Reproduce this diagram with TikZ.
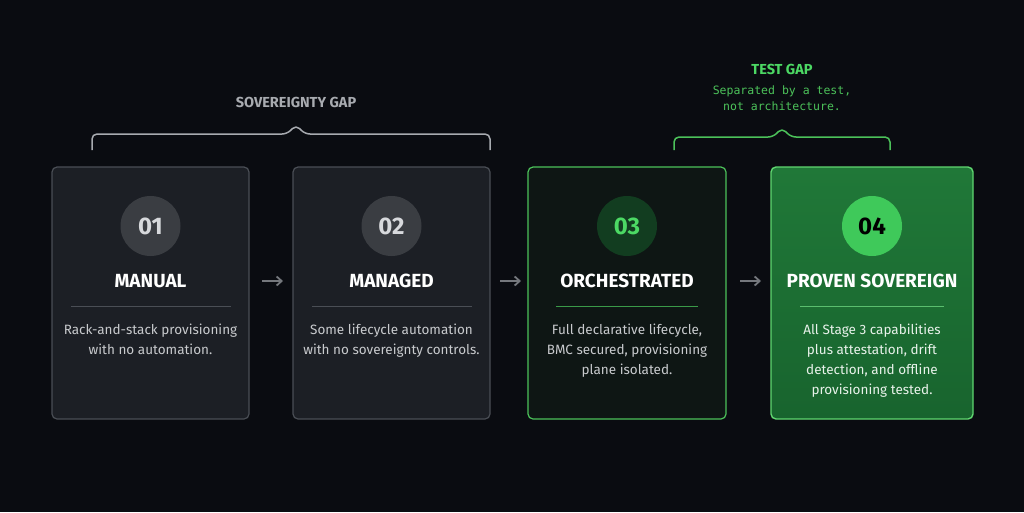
\documentclass[tikz,border=0pt]{standalone}
\usepackage{fontspec}
\setmainfont{Fira Sans}
\newfontfamily\monof{DejaVu Sans Mono}
\usetikzlibrary{arrows.meta}
\definecolor{bg}{HTML}{0A0C11}
\definecolor{cardfill}{HTML}{1C1F25}
\definecolor{cardline}{HTML}{4A4E55}
\definecolor{desccol}{HTML}{C8CACD}
\definecolor{arrcol}{HTML}{75787D}
\definecolor{grn}{HTML}{4CD964}
\definecolor{grnline}{HTML}{4CC25A}
\definecolor{brkgray}{HTML}{A8ABB0}
\definecolor{c3fill}{HTML}{0E1614}
\definecolor{c4top}{HTML}{207838}
\definecolor{c4bot}{HTML}{18642E}
\definecolor{c4line}{HTML}{5FD670}
\definecolor{numgray}{HTML}{3A3D42}
\definecolor{numtext}{HTML}{D7D9DC}
\definecolor{num3}{HTML}{123D20}
\definecolor{num4}{HTML}{3FC95A}
\definecolor{sep3}{HTML}{3A9A48}
\definecolor{sep4}{HTML}{5ABE6E}
\definecolor{desc4}{HTML}{E8F2EA}
\begin{document}
\begin{tikzpicture}[x=1pt,y=-1pt,
  card/.style={draw=cardline,fill=cardfill,rounded corners=5pt,line width=1.2pt},
  num/.style={circle,minimum size=60pt,inner sep=0pt,font=\bfseries\fontsize{24}{26}\selectfont},
  ttl/.style={font=\bfseries\fontsize{19}{22}\selectfont,text=white},
  desc/.style={align=center,font=\fontsize{13.5}{20}\selectfont,text=desccol},
  arr/.style={draw=arrcol,line width=1.8pt,->,>={Straight Barb[length=5pt,width=9pt]}},
  brk/.style={line width=1.5pt,rounded corners=5pt}]
\fill[bg] (0,0) rectangle (1024,512);
\useasboundingbox (0,0) rectangle (1024,512);
% cards
\draw[card] (52,167) rectangle (249,419);
\draw[card] (293,167) rectangle (490,419);
\draw[card,fill=c3fill,draw=grnline] (528,167) rectangle (726,419);
\shade[rounded corners=5pt,top color=c4top,bottom color=c4bot] (771,167) rectangle (973,419);
\draw[line width=1.4pt,draw=c4line,rounded corners=5pt] (771,167) rectangle (973,419);
% circles
\node[num,fill=numgray,text=numtext] (c1) at (150.5,226) {01};
\node[num,fill=numgray,text=numtext] (c2) at (391.5,226) {02};
\node[num,fill=num3,text=grn] (c3) at (627,226) {03};
\node[num,fill=num4,text=black] (c4) at (872,226) {04};
% titles
\node[ttl] (t1) at (150.5,281) {MANUAL};
\node[ttl] (t2) at (391.5,281) {MANAGED};
\node[ttl] (t3) at (627,281) {ORCHESTRATED};
\node[ttl] (t4) at (872,281) {PROVEN SOVEREIGN};
\draw[cardline,line width=1pt] (71,306) -- (231,306);
\draw[cardline,line width=1pt] (312,306) -- (472,306);
\draw[sep3,line width=1pt] (556,306) -- (698,306);
\draw[sep4,line width=1pt] (800,306) -- (944,306);
% descriptions
\node[desc,anchor=north] (d1) at (150.5,320) {Rack-and-stack provisioning\\with no automation.};
\node[desc,anchor=north] (d2) at (391.5,320) {Some lifecycle automation\\with no sovereignty controls.};
\node[desc,anchor=north] (d3) at (627,320) {Full declarative lifecycle,\\BMC secured, provisioning\\plane isolated.};
\node[desc,anchor=north,text=desc4] (d4) at (872,320) {All Stage 3 capabilities\\plus attestation, drift\\detection, and offline\\provisioning tested.};
% arrows
\coordinate (a1s) at (262,281); \coordinate (a1e) at (283,281);
\coordinate (a2s) at (500,281); \coordinate (a2e) at (521,281);
\coordinate (a3s) at (740,281); \coordinate (a3e) at (761,281);
\draw[arr] (a1s) -- (a1e);
\draw[arr] (a2s) -- (a2e);
\draw[arr] (a3s) -- (a3e);
% brackets
\draw[brk,brkgray] (92,150) -- (92,134) -- (287,134) -- (296,125) -- (305,134) -- (490,134) -- (490,150);
\draw[brk,grnline] (674,150) -- (674,137) -- (773,137) -- (782,128) -- (791,137) -- (890,137) -- (890,150);
\node[font=\bfseries\fontsize{14.5}{16}\selectfont,text=brkgray] (sg) at (296,102) {SOVEREIGNTY GAP};
\node[font=\bfseries\fontsize{14.5}{16}\selectfont,text=grn] (tg) at (782,69) {TEST GAP};
\node[align=center,font=\monof\fontsize{11.5}{16}\selectfont,text=grnline] (ts) at (782,98) {Separated by a test,\\not architecture.};
\end{tikzpicture}
\end{document}
